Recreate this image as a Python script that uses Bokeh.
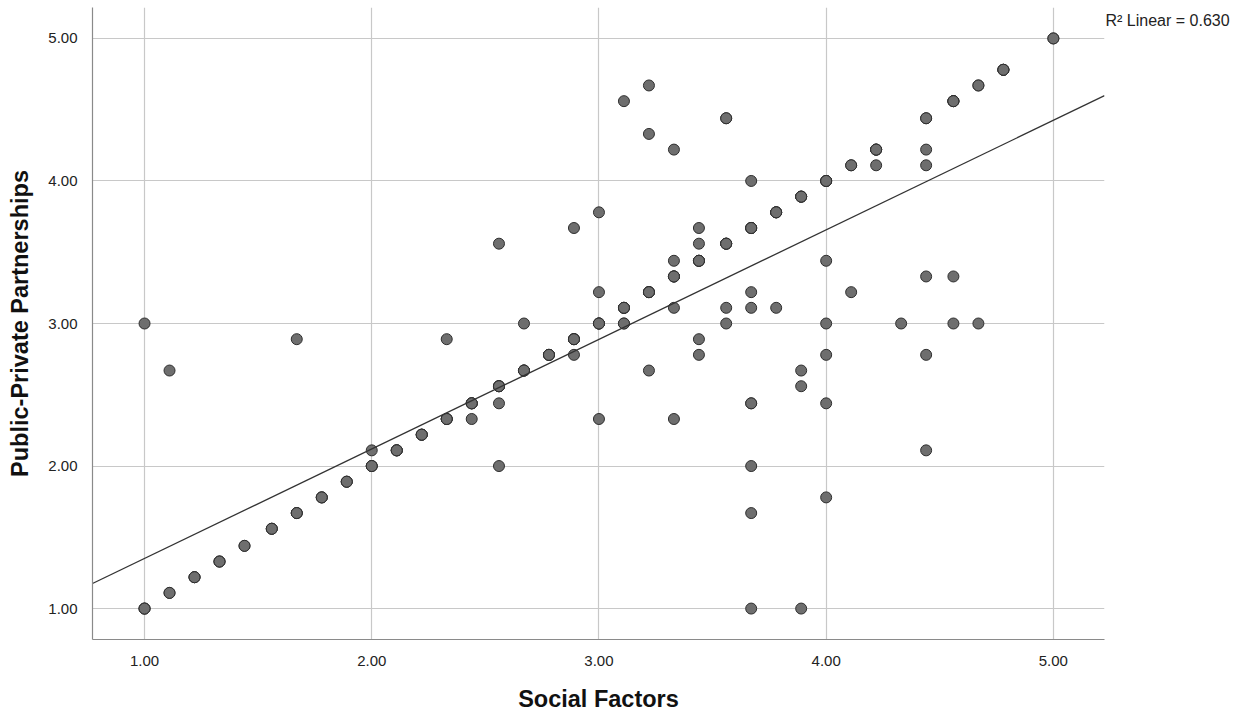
import numpy as np
from bokeh.plotting import figure
from bokeh.models import (Range1d, FixedTicker, NumeralTickFormatter, ColumnDataSource,
                          LinearAxis)
from bokeh.embed import file_html
from bokeh.resources import INLINE

# Social Factors (x), Public-Private Partnerships (y), and estimated overlap count per marker
social = [1.00, 1.11, 1.00, 1.11, 1.22, 1.33, 1.44, 1.56, 1.67, 1.67, 1.78, 1.89,
          2.00, 2.00, 2.11, 2.22, 2.33, 2.33, 2.44, 2.44, 2.56, 2.56, 2.56, 2.56,
          2.67, 2.67, 2.78, 2.89, 2.89, 2.89, 3.00, 3.00, 3.00, 3.00,
          3.11, 3.11, 3.11, 3.22, 3.22, 3.22, 3.22, 3.33, 3.33, 3.33, 3.33, 3.33,
          3.44, 3.44, 3.44, 3.44, 3.44, 3.56, 3.56, 3.56, 3.56,
          3.67, 3.67, 3.67, 3.67, 3.67, 3.67, 3.67, 3.67, 3.78, 3.78,
          3.89, 3.89, 3.89, 3.89, 4.00, 4.00, 4.00, 4.00, 4.00, 4.00,
          4.11, 4.11, 4.22, 4.22, 4.33, 4.44, 4.44, 4.44, 4.44, 4.44, 4.44,
          4.56, 4.56, 4.56, 4.67, 4.67, 4.78, 5.00]
ppp = [3.00, 2.67, 1.00, 1.11, 1.22, 1.33, 1.44, 1.56, 1.67, 2.89, 1.78, 1.89,
       2.00, 2.11, 2.11, 2.22, 2.33, 2.89, 2.44, 2.33, 2.56, 2.44, 2.00, 3.56,
       2.67, 3.00, 2.78, 2.89, 2.78, 3.67, 3.00, 3.22, 3.78, 2.33,
       3.11, 3.00, 4.56, 4.67, 4.33, 3.22, 2.67, 4.22, 3.44, 3.33, 3.11, 2.33,
       3.67, 3.56, 3.44, 2.89, 2.78, 4.44, 3.56, 3.11, 3.00,
       4.00, 3.67, 3.22, 3.11, 2.44, 2.00, 1.67, 1.00, 3.78, 3.11,
       3.89, 2.67, 2.56, 1.00, 4.00, 3.44, 3.00, 2.78, 2.44, 1.78,
       4.11, 3.22, 4.22, 4.11, 3.00, 4.44, 4.22, 4.11, 3.33, 2.78, 2.11,
       4.56, 3.33, 3.00, 4.67, 3.00, 4.78, 5.00]
overlap = [1, 1, 3, 2, 3, 3, 2, 3, 3, 1, 3, 3,
           3, 1, 4, 4, 4, 1, 4, 1, 4, 1, 1, 1,
           4, 1, 4, 4, 1, 1, 4, 1, 1, 1,
           4, 2, 1, 1, 1, 4, 1, 1, 1, 4, 1, 1,
           1, 1, 4, 1, 1, 2, 4, 1, 1,
           1, 4, 1, 1, 2, 1, 1, 1, 4, 1,
           4, 1, 1, 1, 4, 1, 1, 1, 1, 1,
           2, 1, 4, 1, 1, 2, 1, 1, 1, 1, 1,
           4, 1, 1, 2, 1, 4, 2]
x_ticks = [1, 2, 3, 4, 5]
y_ticks = [1, 2, 3, 4, 5]
x_title = "Social Factors"
y_title = "Public-Private Partnerships"
r2_text = "R\u00b2 Linear = 0.630"

xs = np.repeat(np.array(social), overlap)
ys = np.repeat(np.array(ppp), overlap)
slope, intercept = np.polyfit(xs, ys, 1)

FONT = "Liberation Sans"
x_lo, x_hi = 0.771, 5.225
y_lo, y_hi = 0.783, 5.217
px_y = 634 / (y_hi - y_lo)    # pixels per y unit

p = figure(width=1240, height=714, output_backend="svg", toolbar_location=None,
           x_range=Range1d(x_lo, x_hi), y_range=Range1d(y_lo, y_hi),
           min_border_left=92, min_border_right=136, min_border_top=7, min_border_bottom=73)
p.outline_line_color = None
p.background_fill_color = "white"
p.border_fill_color = "white"

for ax, ticks in ((p.xaxis, x_ticks), (p.yaxis, y_ticks)):
    ax.ticker = FixedTicker(ticks=ticks)
    ax.formatter = NumeralTickFormatter(format="0.00")
    ax.major_tick_line_color = None
    ax.minor_tick_line_color = None
    ax.axis_line_color = "#8a8a8a"
    ax.axis_line_width = 1.2
    ax.major_label_text_font = FONT
    ax.major_label_text_font_size = "15px"
    ax.major_label_text_color = "#222222"
    ax.axis_label_text_font = FONT
    ax.axis_label_text_font_style = "bold"
    ax.axis_label_text_font_size = "23.5px"
    ax.axis_label_text_color = "#111111"

p.xaxis.axis_label = x_title
p.yaxis.axis_label = y_title
p.xaxis.major_label_standoff = 10
p.yaxis.major_label_standoff = 9
p.xaxis.axis_label_standoff = 17
p.yaxis.axis_label_standoff = 12

p.grid.grid_line_color = "#c8c8c8"
p.grid.grid_line_width = 1.2
p.xgrid.ticker = FixedTicker(ticks=x_ticks)
p.ygrid.ticker = FixedTicker(ticks=y_ticks)

# R² note as the single tick label of an invisible right-hand axis
r2_pos = y_hi - 13 / px_y
r2_axis = LinearAxis(ticker=FixedTicker(ticks=[r2_pos]),
                     major_label_overrides={r2_pos: r2_text},
                     axis_line_color=None, major_tick_line_color=None,
                     minor_tick_line_color=None, major_tick_out=0, major_tick_in=0,
                     major_label_standoff=1,
                     major_label_text_font=FONT, major_label_text_font_size="16px",
                     major_label_text_color="#222222")
p.add_layout(r2_axis, "right")

src = ColumnDataSource(dict(x=xs, y=ys))
p.scatter("x", "y", source=src, marker="circle", size=11,
          fill_color="#6e6e6e", line_color="#2e2e2e", line_width=1)

p.line([x_lo, x_hi], [intercept + slope * x_lo, intercept + slope * x_hi],
       line_color="#333333", line_width=1.3)

open("out.html", "w").write(file_html(p, INLINE))
